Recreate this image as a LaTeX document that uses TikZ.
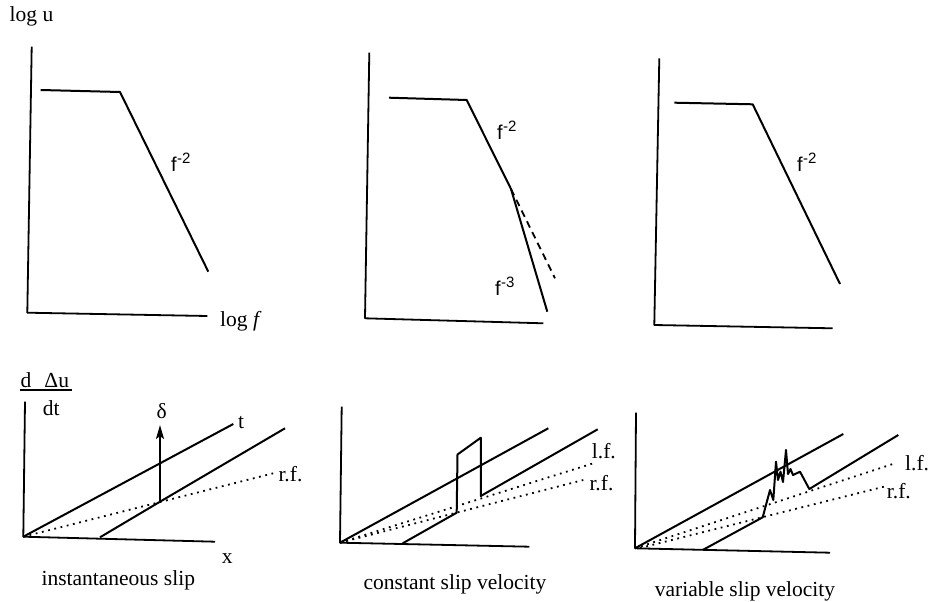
\documentclass[tikz,border=0pt]{standalone}
\usepackage{fontspec}
\setmainfont{Liberation Serif}
\newfontfamily\labsans{Liberation Sans}
\usetikzlibrary{arrows.meta}
\newcommand{\fpow}[1]{f\kern0.3pt\raisebox{8pt}{\fontsize{15}{15}\selectfont #1}}
\begin{document}
\begin{tikzpicture}[x=1pt,y=-1pt,
  ax/.style={line width=1.8pt, line join=round},
  crv/.style={line width=2pt, line join=round},
  dots/.style={line width=1.8pt, dash pattern=on 1.8pt off 4.6pt},
  dsh/.style={line width=1.8pt, dash pattern=on 7pt off 5pt},
  lab/.style={font=\fontsize{21.5}{24}\selectfont, inner sep=0pt},
  pw/.style={font=\labsans\fontsize{20}{22}\selectfont, inner sep=0pt, anchor=base west}]
\useasboundingbox (0,0) rectangle (930,602);

% ---------- top left ----------
\coordinate (A1t) at (31.7,46.7);
\coordinate (A1o) at (27.3,312.7);
\coordinate (A1r) at (207.3,316);
\draw[ax] (A1t) -- (A1o) -- (A1r);
\coordinate (C1a) at (40.7,90);
\coordinate (C1b) at (120,92);
\coordinate (C1c) at (208.3,271.7);
\draw[crv] (C1a) -- (C1b) -- (C1c);
\node[lab, anchor=base west] (logu) at (9.5,21.7) {log u};
\node[lab, anchor=base west] (logf) at (220,326.7) {log \textit{f}};
\node[pw] (p1) at (171,171) {\fpow{-2}};

% ---------- top middle ----------
\coordinate (A2t) at (369.3,52.7);
\coordinate (A2o) at (365,318.3);
\coordinate (A2r) at (543.3,323.3);
\draw[ax] (A2t) -- (A2o) -- (A2r);
\coordinate (C2a) at (389,97.7);
\coordinate (C2b) at (466.7,100);
\coordinate (C2c) at (511,189);
\coordinate (C2d) at (547.3,311.7);
\coordinate (C2e) at (555,278.3);
\draw[crv] (C2a) -- (C2b) -- (C2c) -- (C2d);
\draw[dsh] (C2c) -- (C2e);
\node[pw] (p2) at (497,139.3) {\fpow{-2}};
\node[pw] (p3) at (495,295) {\fpow{-3}};

% ---------- top right ----------
\coordinate (A3t) at (659.3,58.3);
\coordinate (A3o) at (654.3,325);
\coordinate (A3r) at (832.7,328.3);
\draw[ax] (A3t) -- (A3o) -- (A3r);
\coordinate (C3a) at (674.3,102.7);
\coordinate (C3b) at (752.7,104.3);
\coordinate (C3c) at (840,284);
\draw[crv] (C3a) -- (C3b) -- (C3c);
\node[pw] (p4) at (797,171.7) {\fpow{-2}};

% ---------- bottom left ----------
\node[lab, anchor=base west] (num) at (20.5,387) {d\hspace{13pt}Δu};
\coordinate (fl) at (20,390);
\coordinate (fr) at (71.7,390);
\draw[line width=1.5pt] (fl) -- (fr);
\node[lab, anchor=base west] (den) at (42.7,415) {dt};
\coordinate (B1t) at (25,401.7);
\coordinate (B1o) at (23.3,536.7);
\coordinate (B1r) at (215,541.7);
\draw[ax] (B1t) -- (B1o) -- (B1r);
\coordinate (B1l1) at (233.3,424);
\draw[crv] (B1o) -- (B1l1);
\coordinate (B1s) at (100,537.3);
\coordinate (B1k) at (160,501.7);
\coordinate (B1e) at (285,428.3);
\draw[crv] (B1s) -- (B1k) -- (B1e);
\coordinate (B1rf) at (273.3,473.3);
\draw[dots] (B1o) -- (B1rf);
\coordinate (B1ar) at (160,425);
\draw[crv, -{Stealth[length=14pt,width=8pt,inset=3pt]}] (B1k) -- (B1ar);
\node[lab] (delta) at (161.7,410.7) {δ};
\node[lab, anchor=base west] (tl) at (238,428) {t};
\node[lab, anchor=base west] (rf1) at (278.3,481.7) {r.f.};
\node[lab, anchor=base west] (xl) at (221.7,563) {x};
\node[lab, anchor=base] (cap1) at (118.3,585) {instantaneous slip};

% ---------- bottom middle ----------
\coordinate (B2t) at (341.7,406.7);
\coordinate (B2o) at (340,542.7);
\coordinate (B2r) at (529.3,546.7);
\draw[ax] (B2t) -- (B2o) -- (B2r);
\coordinate (B2l1) at (548.3,428.3);
\draw[crv] (B2o) -- (B2l1);
\draw[crv] (402.7,543.3) -- (456.7,512.7) -- (457.5,454.5) -- (480.8,437.7) -- (480.8,496) -- (597.7,429.3);
\coordinate (B2lf) at (593.3,463.3);
\coordinate (B2rf) at (583.3,480);
\draw[dots] (B2o) -- (B2lf);
\draw[dots] (B2o) -- (B2rf);
\node[lab, anchor=base west] (lf2) at (591.7,458.3) {l.f.};
\node[lab, anchor=base west] (rf2) at (589.3,490) {r.f.};
\node[lab, anchor=base] (cap2) at (455,589) {constant slip velocity};

% ---------- bottom right ----------
\coordinate (B3t) at (636,412.7);
\coordinate (B3o) at (635,548.3);
\coordinate (B3r) at (830,552.7);
\draw[ax] (B3t) -- (B3o) -- (B3r);
\coordinate (B3l1) at (843.3,434);
\draw[crv] (B3o) -- (B3l1);
\draw[crv] (702.7,550) -- (762.7,517.3) -- (770,490) -- (773.3,500) -- (776,461.7)
  -- (778,480) -- (780.5,471.7) -- (783,482) -- (786,450) -- (788,474) -- (790.5,469)
  -- (793,475) -- (800,471.7) -- (809.3,489) -- (898.3,435);
\coordinate (B3lf) at (895,463.3);
\coordinate (B3rs) at (640,548);
\coordinate (B3rf) at (886.7,486);
\draw[dots] (B3o) -- (B3lf);
\draw[dots] (B3rs) -- (B3rf);
\node[lab, anchor=base west] (lf3) at (905,470.7) {l.f.};
\node[lab, anchor=base west] (rf3) at (886.7,498.3) {r.f.};
\node[lab, anchor=base] (cap3) at (745,596) {variable slip velocity};
\end{tikzpicture}
\end{document}
